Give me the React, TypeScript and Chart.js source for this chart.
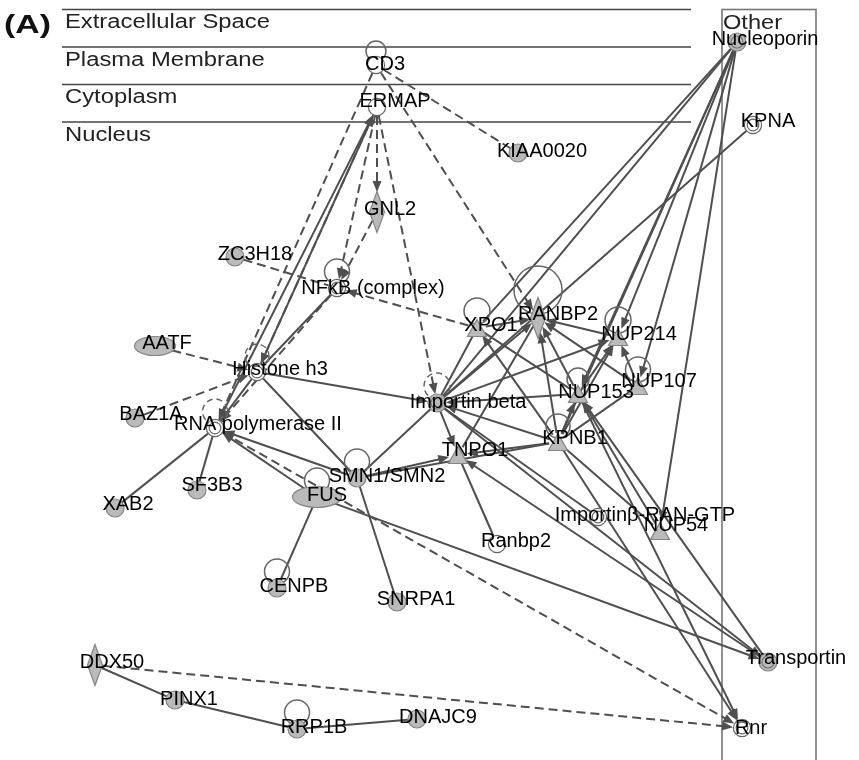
import React, { useEffect, useRef } from "react";
import { Chart, registerables } from "chart.js";
Chart.register(...registerables);

// ---------- DATA ----------
const nodeNames = [
  "CD3", "ERMAP", "KIAA0020", "GNL2", "ZC3H18", "NFkB (complex)", "AATF", "Histone h3",
  "BAZ1A", "RNA polymerase II", "Importin beta", "XPO1", "RANBP2", "NUP214", "NUP107",
  "NUP153", "KPNB1", "TNPO1", "SMN1/SMN2", "FUS", "SF3B3", "XAB2", "CENPB", "SNRPA1",
  "Ranbp2", "Importinβ-RAN-GTP", "NUP54", "DDX50", "PINX1", "RRP1B", "DNAJC9",
  "Nucleoporin", "KPNA", "Transportin", "Rnr",
];
const nodeX = [376, 377, 518, 377, 235, 337, 155, 257, 135, 215, 437, 477, 538, 618, 638, 578, 558, 458, 357, 317, 197, 115, 277, 397, 497, 598, 660, 95, 175, 297, 417, 737, 753, 768, 742];
const nodeY = [65, 107, 153, 212, 257, 288, 346, 372, 418, 428, 403, 328, 318, 337, 386, 394, 442, 455, 478, 497, 490, 508, 588, 602, 544, 517, 531, 665, 700, 729, 719, 42, 125, 662, 728];
// w = white circle, ww = white double circle, g = grey circle, gr = grey ringed circle,
// t = triangle, d = diamond, e/E = ellipse (small / large)
const nodeKinds = ["w", "w", "g", "d", "g", "ww", "e", "ww", "g", "ww", "gr", "t", "d", "t", "t", "t", "t", "t", "g", "E", "g", "g", "g", "g", "w", "ww", "t", "d", "g", "g", "g", "gr", "ww", "gr", "ww"];

// edge: from, to, type (a = solid arrow, s = solid, da = dashed arrow, d = dashed)
const edges: [string, string, string][] = [
  ["CD3", "KIAA0020", "d"],
  ["CD3", "RANBP2", "da"],
  ["ERMAP", "GNL2", "da"],
  ["ERMAP", "NFkB (complex)", "da"],
  ["GNL2", "NFkB (complex)", "da"],
  ["ERMAP", "Importin beta", "da"],
  ["ERMAP", "Histone h3", "da"],
  ["CD3", "RNA polymerase II", "da"],
  ["ZC3H18", "NFkB (complex)", "d"],
  ["XPO1", "NFkB (complex)", "da"],
  ["NFkB (complex)", "RNA polymerase II", "da"],
  ["AATF", "Histone h3", "da"],
  ["BAZ1A", "Histone h3", "da"],
  ["RNA polymerase II", "Rnr", "da"],
  ["DDX50", "Rnr", "da"],
  ["RNA polymerase II", "ERMAP", "a"],
  ["Histone h3", "ERMAP", "a"],
  ["NFkB (complex)", "Histone h3", "s"],
  ["Histone h3", "RNA polymerase II", "s"],
  ["Histone h3", "Importin beta", "a"],
  ["Histone h3", "SMN1/SMN2", "s"],
  ["XAB2", "RNA polymerase II", "s"],
  ["SF3B3", "RNA polymerase II", "s"],
  ["SMN1/SMN2", "RNA polymerase II", "a"],
  ["FUS", "RNA polymerase II", "a"],
  ["FUS", "CENPB", "s"],
  ["SMN1/SMN2", "SNRPA1", "s"],
  ["FUS", "Transportin", "a"],
  ["SMN1/SMN2", "Importin beta", "s"],
  ["SMN1/SMN2", "TNPO1", "a"],
  ["SMN1/SMN2", "KPNB1", "s"],
  ["TNPO1", "Ranbp2", "s"],
  ["Transportin", "TNPO1", "a"],
  ["KPNB1", "TNPO1", "a"],
  ["Importin beta", "TNPO1", "a"],
  ["KPNB1", "Importin beta", "a"],
  ["Importin beta", "XPO1", "s"],
  ["Importin beta", "RANBP2", "a"],
  ["Importin beta", "NUP214", "a"],
  ["NUP153", "Importin beta", "a"],
  ["KPNA", "Importin beta", "s"],
  ["Nucleoporin", "Importin beta", "s"],
  ["Nucleoporin", "XPO1", "s"],
  ["Nucleoporin", "NUP214", "a"],
  ["Nucleoporin", "NUP153", "a"],
  ["Nucleoporin", "KPNB1", "s"],
  ["Nucleoporin", "NUP54", "a"],
  ["Nucleoporin", "NUP107", "a"],
  ["XPO1", "RANBP2", "a"],
  ["KPNB1", "XPO1", "a"],
  ["NUP153", "XPO1", "s"],
  ["NUP214", "RANBP2", "a"],
  ["NUP153", "RANBP2", "a"],
  ["KPNB1", "RANBP2", "a"],
  ["NUP107", "RANBP2", "a"],
  ["TNPO1", "RANBP2", "s"],
  ["NUP153", "NUP214", "a"],
  ["KPNB1", "NUP214", "a"],
  ["NUP107", "NUP214", "a"],
  ["KPNB1", "NUP153", "a"],
  ["KPNB1", "NUP107", "s"],
  ["Importin beta", "Importinβ-RAN-GTP", "s"],
  ["KPNB1", "NUP54", "s"],
  ["KPNB1", "Rnr", "a"],
  ["NUP153", "Rnr", "a"],
  ["Transportin", "NUP153", "a"],
  ["NUP54", "NUP153", "a"],
  ["Importin beta", "Transportin", "a"],
  ["DDX50", "PINX1", "s"],
  ["PINX1", "RRP1B", "s"],
  ["RRP1B", "DNAJC9", "s"],
];

// self loops: node, loop radius, dashed
const selfLoops: [string, number, boolean][] = [
  ["CD3", 10, false], ["NFkB (complex)", 12.5, false], ["Histone h3", 12, true],
  ["RNA polymerase II", 12.5, true], ["Importin beta", 13, true], ["XPO1", 13, false],
  ["RANBP2", 24, false], ["NUP214", 13, false], ["NUP107", 12.5, false], ["NUP153", 11, false],
  ["KPNB1", 12, false], ["SMN1/SMN2", 12.5, false], ["FUS", 12.5, false], ["CENPB", 12.5, false],
  ["RRP1B", 12.5, false],
];

const compartments = ["Extracellular Space", "Plasma Membrane", "Cytoplasm", "Nucleus"];
const compartmentTops = [9.5, 47, 84.5, 122];

// ---------- LAYOUT / STYLE ----------
const labelOffsets: Record<string, [number, number]> = {
  "CD3": [9, -2], "ERMAP": [18, -7], "KIAA0020": [24, -3], "GNL2": [13, -4], "ZC3H18": [20, -4],
  "NFkB (complex)": [36, -1], "AATF": [12, -4], "Histone h3": [23, -4], "BAZ1A": [16, -5],
  "RNA polymerase II": [43, -5], "Importin beta": [31, -2], "XPO1": [14, -4], "RANBP2": [20, -5],
  "NUP214": [21, -4], "NUP107": [21, -6], "NUP153": [18, -3], "KPNB1": [17, -5], "TNPO1": [17, -6],
  "SMN1/SMN2": [30, -3], "FUS": [10, -3], "SF3B3": [15, -6], "XAB2": [13, -5], "CENPB": [17, -3],
  "SNRPA1": [19, -4], "Ranbp2": [19, -4], "Importinβ-RAN-GTP": [47, -3], "NUP54": [16, -7],
  "DDX50": [17, -4], "PINX1": [14, -2], "RRP1B": [17, -3], "DNAJC9": [21, -3], "Nucleoporin": [28, -4],
  "KPNA": [15, -5], "Transportin": [28, -5], "Rnr": [9, -1],
};

const FONT = '"Liberation Sans", Arial, Helvetica, sans-serif';
const EDGE = "#4f4f4f";
const FILL = "#bababa";
const OUT = "#858585";

function makeShape(kind: string): HTMLCanvasElement {
  const c = document.createElement("canvas");
  let w = 22, h = 22;
  if (kind === "t") { w = 22; h = 20; }
  if (kind === "d") { w = 20; h = 44; }
  if (kind === "e") { w = 44; h = 22; }
  if (kind === "E") { w = 52; h = 24; }
  c.width = w; c.height = h;
  const ctx = c.getContext("2d")!;
  const cx = w / 2, cy = h / 2;
  ctx.lineWidth = 1.2;
  ctx.strokeStyle = OUT;
  ctx.fillStyle = FILL;
  ctx.beginPath();
  if (kind === "g" || kind === "gr") {
    ctx.arc(cx, cy, 9, 0, Math.PI * 2);
    ctx.fill(); ctx.stroke();
    if (kind === "gr") {
      ctx.strokeStyle = "#777"; ctx.beginPath(); ctx.arc(cx, cy, 6, 0, Math.PI * 2); ctx.stroke();
    }
  } else if (kind === "w" || kind === "ww") {
    ctx.fillStyle = "#ffffff"; ctx.strokeStyle = "#666";
    ctx.arc(cx, cy, 8.6, 0, Math.PI * 2);
    ctx.fill(); ctx.stroke();
    if (kind === "ww") { ctx.beginPath(); ctx.arc(cx, cy, 5.8, 0, Math.PI * 2); ctx.stroke(); }
  } else if (kind === "t") {
    ctx.moveTo(cx, 1.5); ctx.lineTo(w - 1.5, h - 1.5); ctx.lineTo(1.5, h - 1.5); ctx.closePath();
    ctx.fill(); ctx.stroke();
  } else if (kind === "d") {
    ctx.moveTo(cx, 1.5); ctx.lineTo(w - 2.5, cy); ctx.lineTo(cx, h - 1.5); ctx.lineTo(2.5, cy); ctx.closePath();
    ctx.fill(); ctx.stroke();
  } else {
    ctx.ellipse(cx, cy, w / 2 - 1.5, h / 2 - 1.5, 0, 0, Math.PI * 2);
    ctx.fill(); ctx.stroke();
  }
  return c;
}

function boundary(kind: string, ux: number, uy: number): number {
  if (kind === "d") return 1 / (Math.abs(ux) / 8 + Math.abs(uy) / 20);
  if (kind === "e") return 1 / Math.sqrt((ux / 20) ** 2 + (uy / 9) ** 2);
  if (kind === "E") return 1 / Math.sqrt((ux / 24) ** 2 + (uy / 10) ** 2);
  if (kind === "t") return 9;
  return 9;
}

export default function App() {
  const ref = useRef<HTMLCanvasElement>(null);
  useEffect(() => {
    if (!ref.current) return;
    const shapes: Record<string, HTMLCanvasElement> = {};
    ["g", "gr", "w", "ww", "t", "d", "e", "E"].forEach((k) => (shapes[k] = makeShape(k)));
    const idx = (n: string) => nodeNames.indexOf(n);

    const networkPlugin = {
      id: "network",
      beforeDatasetsDraw(chart: any) {
        const { ctx } = chart;
        const X = (v: number) => chart.scales.x.getPixelForValue(v);
        const Y = (v: number) => chart.scales.y.getPixelForValue(v);
        ctx.save();
        // compartments
        ctx.strokeStyle = "#444"; ctx.lineWidth = 1.3;
        compartmentTops.forEach((t, i) => {
          ctx.beginPath(); ctx.moveTo(X(62), Y(t)); ctx.lineTo(X(691), Y(t)); ctx.stroke();
          ctx.save();
          ctx.translate(X(65), Y(t) + 18.5);
          ctx.scale(1.22, 1);
          ctx.fillStyle = "#222"; ctx.font = `19.5px ${FONT}`; ctx.textBaseline = "alphabetic";
          ctx.fillText(compartments[i], 0, 0);
          ctx.restore();
        });
        // Other box
        ctx.strokeStyle = "#777"; ctx.lineWidth = 1.6;
        ctx.strokeRect(X(722), Y(9.5), X(816) - X(722), Y(762) - Y(9.5));
        ctx.save();
        ctx.translate(X(723), Y(28.5)); ctx.scale(1.18, 1);
        ctx.fillStyle = "#222"; ctx.font = `20px ${FONT}`; ctx.fillText("Other", 0, 0);
        ctx.restore();
        // edges
        ctx.strokeStyle = EDGE; ctx.fillStyle = EDGE; ctx.lineWidth = 2;
        edges.forEach(([a, b, type]) => {
          const i = idx(a), j = idx(b);
          const x1 = X(nodeX[i]), y1 = Y(nodeY[i]), x2 = X(nodeX[j]), y2 = Y(nodeY[j]);
          const dx = x2 - x1, dy = y2 - y1, L = Math.hypot(dx, dy);
          const ux = dx / L, uy = dy / L;
          const r1 = boundary(nodeKinds[i], ux, uy), r2 = boundary(nodeKinds[j], ux, uy);
          const sx = x1 + ux * r1, sy = y1 + uy * r1, ex = x2 - ux * r2, ey = y2 - uy * r2;
          const arrow = type === "a" || type === "da";
          const dashed = type === "d" || type === "da";
          const ah = 11, aw = 4.5;
          ctx.setLineDash(dashed ? [9, 5] : []);
          ctx.beginPath(); ctx.moveTo(sx, sy);
          ctx.lineTo(arrow ? ex - ux * ah * 0.7 : ex, arrow ? ey - uy * ah * 0.7 : ey);
          ctx.stroke();
          if (arrow) {
            ctx.setLineDash([]);
            ctx.beginPath();
            ctx.moveTo(ex, ey);
            ctx.lineTo(ex - ux * ah - uy * aw, ey - uy * ah + ux * aw);
            ctx.lineTo(ex - ux * ah + uy * aw, ey - uy * ah - ux * aw);
            ctx.closePath(); ctx.fill();
          }
        });
        // self loops
        ctx.strokeStyle = "#666"; ctx.lineWidth = 1.5;
        selfLoops.forEach(([n, r, dashed]) => {
          const i = idx(n);
          ctx.setLineDash(dashed ? [6, 4] : []);
          ctx.beginPath();
          ctx.arc(X(nodeX[i]), Y(nodeY[i] - r - 4), r, 0, Math.PI * 2);
          ctx.stroke();
        });
        ctx.restore();
      },
      afterDatasetsDraw(chart: any) {
        const { ctx } = chart;
        const X = (v: number) => chart.scales.x.getPixelForValue(v);
        const Y = (v: number) => chart.scales.y.getPixelForValue(v);
        ctx.save();
        ctx.fillStyle = "#000";
        ctx.font = `20px ${FONT}`;
        ctx.textAlign = "center"; ctx.textBaseline = "middle";
        nodeNames.forEach((n, i) => {
          const [dx, dy] = labelOffsets[n] || [0, 0];
          ctx.fillText(n, X(nodeX[i] + dx), Y(nodeY[i] + dy) + 1);
        });
        ctx.textAlign = "left"; ctx.textBaseline = "alphabetic";
        ctx.translate(X(4), Y(33)); ctx.scale(1.3, 1);
        ctx.font = `bold 26px ${FONT}`; ctx.fillStyle = "#111";
        ctx.fillText("(A)", 0, 0);
        ctx.restore();
      },
    };

    const chart = new Chart(ref.current, {
      type: "scatter",
      data: {
        datasets: [
          {
            label: "nodes",
            data: nodeNames.map((_, i) => ({ x: nodeX[i], y: nodeY[i] })),
            pointStyle: (c: any) => shapes[nodeKinds[c.dataIndex]] as any,
            pointRadius: 10,
            pointHoverRadius: 10,
            clip: false,
          } as any,
        ],
      },
      options: {
        animation: false,
        responsive: false,
        events: [],
        layout: { padding: 0, autoPadding: false },
        plugins: { legend: { display: false }, tooltip: { enabled: false } },
        scales: {
          x: { type: "linear", min: 0, max: 859, display: false },
          y: { type: "linear", min: 0, max: 760, reverse: true, display: false },
        },
      },
      plugins: [networkPlugin],
    });
    return () => chart.destroy();
  }, []);
  return (
    <div style={{ position: "absolute", left: 0, top: 0, width: 859, height: 760, background: "#fff" }}>
      <canvas ref={ref} width={859} height={760} style={{ display: "block" }} />
    </div>
  );
}
